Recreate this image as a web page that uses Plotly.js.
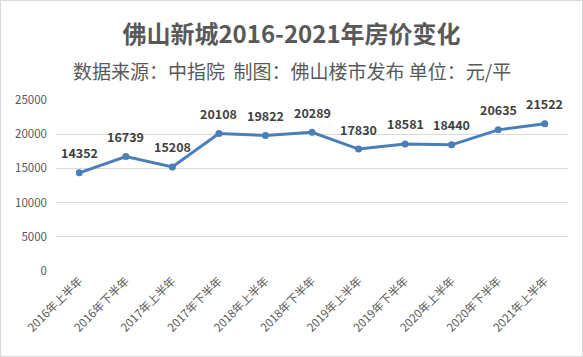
<!DOCTYPE html>
<html><head><meta charset="utf-8">
<script src="https://cdn.plot.ly/plotly-3.0.1.min.js"></script>
<style>html,body{margin:0;padding:0;background:#fff}#c{width:583px;height:357px;box-sizing:border-box;border:1px solid #d9d9d9}</style>
</head><body><div id="c"></div>
<script>
const categories = ["2016年上半年","2016年下半年","2017年上半年","2017年下半年","2018年上半年","2018年下半年","2019年上半年","2019年下半年","2020年上半年","2020年下半年","2021年上半年"];
const prices = [14352,16739,15208,20108,19822,20289,17830,18581,18440,20635,21522];
const yTicks = [0,5000,10000,15000,20000,25000];
const yTickLabels = ["0","5000","10000","15000","20000","25000"];
const titleText = "佛山新城2016-2021年房价变化";
const subtitleText = "数据来源：中指院&nbsp;&nbsp;制图：佛山楼市发布 单位：元/平";
const F = '"Noto Sans CJK SC", "Open Sans", sans-serif';
const ML = 55, MR = 14, W = 581;
const centerPaper = (W / 2 - ML) / (W - ML - MR);
const labelAnns = categories.map((c, i) => ({
  x: c, y: prices[i], xref: 'x', yref: 'y', text: '<b>' + prices[i] + '</b>',
  showarrow: false, yshift: 20, xanchor: 'center', yanchor: 'middle',
  font: {family: F, size: 12.5, color: '#404040'}
}));
Plotly.newPlot('c', [{
  x: categories, y: prices, type: 'scatter', mode: 'lines+markers',
  line: {color: '#4a7ebb', width: 3}, marker: {color: '#4a7ebb', size: 7},
  cliponaxis: false, hoverinfo: 'none'
}], {
  width: W, height: 355,
  margin: {l: ML, r: MR, t: 99, b: 85},
  paper_bgcolor: '#fff', plot_bgcolor: '#fff',
  showlegend: false,
  title: {text: '<b>' + titleText + '</b>', font: {family: F, size: 24, color: '#595959'}, x: 0.5, xanchor: 'center', y: 0.905, yanchor: 'middle'},
  annotations: [{text: subtitleText, xref: 'paper', yref: 'paper', x: centerPaper, y: 1, yshift: 30, xanchor: 'center', yanchor: 'middle', showarrow: false, font: {family: F, size: 19, color: '#595959'}}].concat(labelAnns),
  xaxis: {type: 'category', range: [-0.5, 10.5], tickangle: -45, tickfont: {family: F, size: 11.5, color: '#595959'}, showgrid: false, showline: false, ticks: '', fixedrange: true},
  yaxis: {range: [0, 25000], tickvals: yTicks, ticktext: yTickLabels, tickfont: {family: F, size: 11.5, color: '#595959'}, gridcolor: '#d9d9d9', gridwidth: 1, zeroline: false, showline: false, ticks: '', ticklabelstandoff: 8, fixedrange: true}
}, {displayModeBar: false, staticPlot: true});
</script></body></html>
